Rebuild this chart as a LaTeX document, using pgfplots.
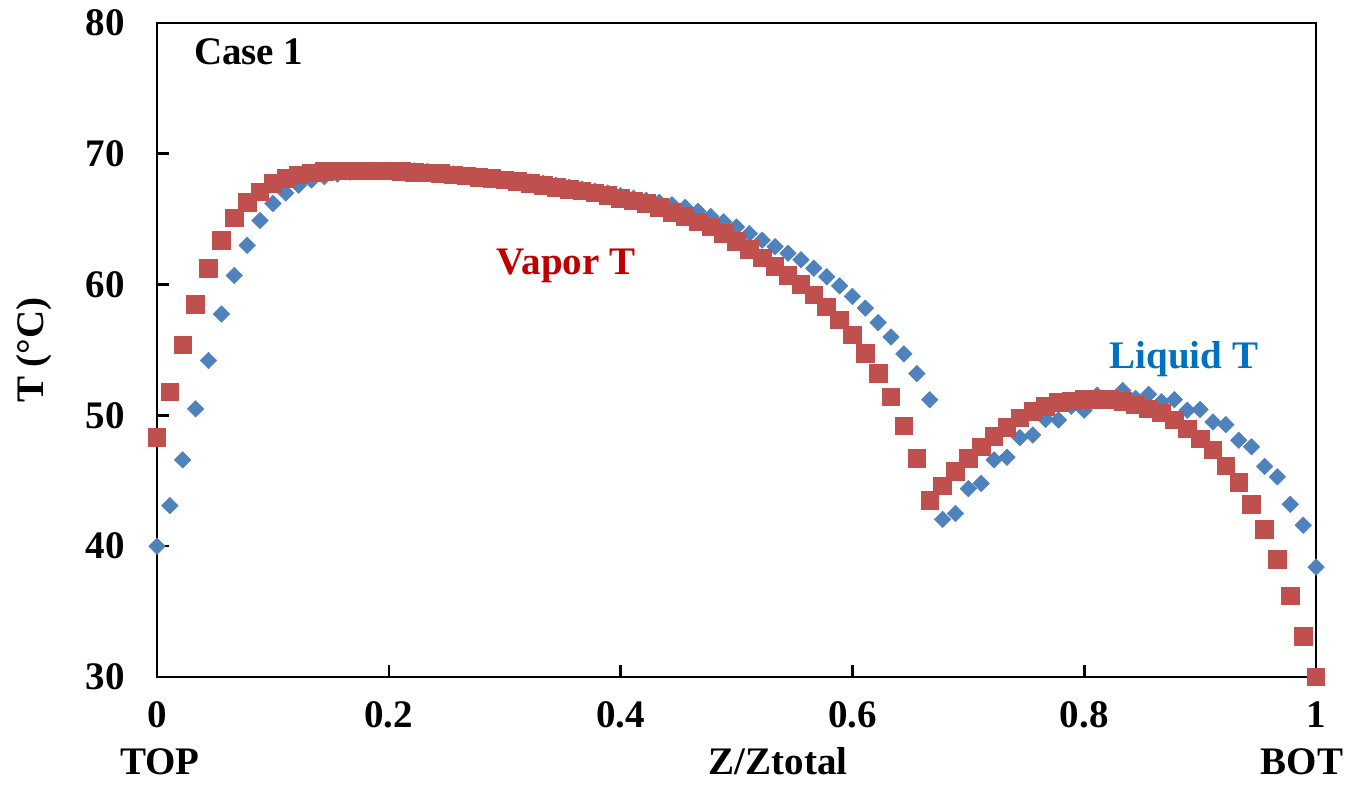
\documentclass[border=0pt]{standalone}
\usepackage{fontspec}
\setmainfont{Liberation Serif}
\usepackage{pgfplots}
\pgfplotsset{compat=1.18}
\usepackage{pgfplotstable}
\usetikzlibrary{calc}
\definecolor{vapmark}{HTML}{C0504D}
\definecolor{liqmark}{HTML}{4F81BD}
\definecolor{vaptext}{HTML}{C00000}
\definecolor{liqtext}{HTML}{0070C0}
\newcommand{\lblfont}{\fontsize{19.5}{22}\selectfont\bfseries}

% column temperature profile, Case 1
\pgfplotstableread{
z      vap    liq
0      48.3   40.0
0.0111 51.8   43.1
0.0222 55.4   46.6
0.0333 58.5   50.5
0.0444 61.25  54.2
0.0556 63.4   57.75
0.0667 65.1   60.7
0.0778 66.3   63.0
0.0889 67.1   64.9
0.1    67.75  66.2
0.1111 68.1   67.0
0.1222 68.4   67.6
0.1333 68.55  68.0
0.1444 68.65  68.25
0.1556 68.7   68.45
0.1667 68.7   68.6
0.1778 68.7   68.7
0.1889 68.7   68.75
0.2    68.7   68.75
0.2111 68.65  68.75
0.2222 68.6   68.7
0.2333 68.55  68.65
0.2444 68.5   68.55
0.2556 68.4   68.45
0.2667 68.3   68.35
0.2778 68.2   68.25
0.2889 68.1   68.15
0.3    68.0   68.05
0.3111 67.9   67.95
0.3222 67.75  67.85
0.3333 67.6   67.75
0.3444 67.45  67.6
0.3556 67.3   67.45
0.3667 67.15  67.3
0.3778 67.0   67.15
0.3889 66.8   67.0
0.4    66.6   66.8
0.4111 66.4   66.6
0.4222 66.2   66.45
0.4333 65.9   66.3
0.4444 65.5   66.1
0.4556 65.2   65.9
0.4667 64.8   65.6
0.4778 64.4   65.2
0.4889 63.9   64.8
0.5    63.3   64.4
0.5111 62.7   63.9
0.5222 62.05  63.4
0.5333 61.4   62.9
0.5444 60.7   62.4
0.5556 60.0   61.9
0.5667 59.2   61.25
0.5778 58.3   60.6
0.5889 57.3   59.9
0.6    56.15  59.1
0.6111 54.75  58.2
0.6222 53.2   57.1
0.6333 51.4   56.0
0.6444 49.2   54.7
0.6556 46.7   53.2
0.6667 43.5   51.2
0.6778 44.6   42.05
0.6889 45.7   42.5
0.7    46.7   44.4
0.7111 47.6   44.8
0.7222 48.4   46.6
0.7333 49.1   46.8
0.7444 49.8   48.3
0.7556 50.3   48.5
0.7667 50.7   49.7
0.7778 51.0   49.65
0.7889 51.1   50.7
0.8    51.2   50.4
0.8111 51.2   51.55
0.8222 51.2   51.3
0.8333 51.05  51.9
0.8444 50.8   51.3
0.8556 50.5   51.6
0.8667 50.2   51.05
0.8778 49.65  51.2
0.8889 48.96  50.4
0.9    48.2   50.45
0.9111 47.35  49.5
0.9222 46.15  49.3
0.9333 44.9   48.1
0.9444 43.2   47.6
0.9556 41.3   46.1
0.9667 39.0   45.3
0.9778 36.2   43.2
0.9889 33.1   41.6
1      30.0   38.4
}\profile

\begin{document}
\begin{tikzpicture}
\begin{axis}[
  name=ax, scale only axis, width=579.5pt, height=327pt,
  xmin=0, xmax=1, ymin=30, ymax=80,
  xtick={0,0.2,0.4,0.6,0.8,1}, ytick={30,40,50,60,70,80},
  tick pos=left, tick align=inside, major tick length=6pt,
  axis line style={line width=1.3pt},
  every tick/.style={line width=1.3pt, black},
  clip=false,
  /pgf/number format/assume math mode=true,
  tick label style={font=\lblfont},
  yticklabel style={anchor=east, inner sep=0pt, xshift=-16pt},
  xticklabel style={anchor=base, inner sep=0pt, yshift=-25.5pt},
]
\addplot[only marks, mark=square*, mark size=2.9pt,
  mark options={rotate=45, fill=liqmark, draw=liqmark, line width=0.3pt}]
  table[x=z, y=liq] {\profile};
\addplot[only marks, mark=square*, mark size=4.4pt,
  mark options={fill=vapmark, draw=vapmark, line width=0.4pt}]
  table[x=z, y=vap] {\profile};

\node[anchor=base, text=vaptext, font=\lblfont] at (axis cs:0.353,60.8) {Vapor T};
\node[anchor=base, text=liqtext, font=\lblfont] at (axis cs:0.886,53.55) {Liquid T};
\end{axis}

\node[anchor=west, font=\lblfont] at ($(ax.north west)+(15pt,-14.5pt)$) {Case 1};
\node[rotate=90, font=\lblfont] at ($(ax.west)+(-61.5pt,0pt)$) {T (°C)};
\node[anchor=base, font=\lblfont] at ($(ax.south west)+(1.5pt,-49pt)$) {TOP};
\node[anchor=base, font=\lblfont] at ($(ax.south west)+(310.5pt,-49pt)$) {Z/Ztotal};
\node[anchor=base, font=\lblfont] at ($(ax.south west)+(572.5pt,-49pt)$) {BOT};

\pgfresetboundingbox
\path[use as bounding box] ($(ax.south west)+(-78.5pt,-54pt)$) rectangle ($(ax.north east)+(27.5pt,11.5pt)$);
\end{tikzpicture}
\end{document}
